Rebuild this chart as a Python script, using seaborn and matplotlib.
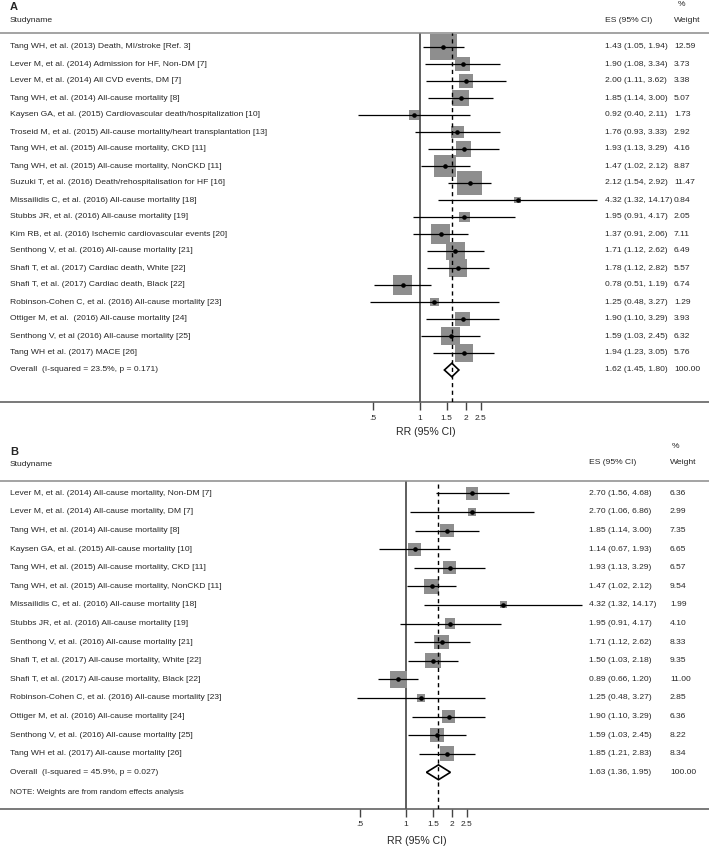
import numpy as np
import pandas as pd
import matplotlib
matplotlib.use('Agg')
import matplotlib.pyplot as plt
import matplotlib.transforms as mtransforms
from matplotlib.patches import Polygon
from matplotlib.ticker import FixedLocator, NullLocator
import seaborn as sns

sns.set_theme(style='white')
plt.rcParams['font.family'] = ['Liberation Sans', 'DejaVu Sans']

# Panel A: all outcomes
studies_a = [
    'Tang WH, et al. (2013) Death, MI/stroke [Ref. 3]',
    'Lever M, et al. (2014) Admission for HF, Non-DM [7]',
    'Lever M, et al. (2014) All CVD events, DM [7]',
    'Tang WH, et al. (2014) All-cause mortality [8]',
    'Kaysen GA, et al. (2015) Cardiovascular death/hospitalization [10]',
    'Troseid M, et al. (2015) All-cause mortality/heart transplantation [13]',
    'Tang WH, et al. (2015) All-cause mortality, CKD [11]',
    'Tang WH, et al. (2015) All-cause mortality, NonCKD [11]',
    'Suzuki T, et al. (2016) Death/rehospitalisation for HF [16]',
    'Missailidis C, et al. (2016) All-cause mortality [18]',
    'Stubbs JR, et al. (2016) All-cause mortality [19]',
    'Kim RB, et al. (2016) Ischemic cardiovascular events [20]',
    'Senthong V, et al. (2016) All-cause mortality [21]',
    'Shafi T, et al. (2017) Cardiac death, White [22]',
    'Shafi T, et al. (2017) Cardiac death, Black [22]',
    'Robinson-Cohen C, et al. (2016) All-cause mortality [23]',
    'Ottiger M, et al.  (2016) All-cause mortality [24]',
    'Senthong V, et al (2016) All-cause mortality [25]',
    'Tang WH et al. (2017) MACE [26]',
]
es_a = [1.43, 1.90, 2.00, 1.85, 0.92, 1.76, 1.93, 1.47, 2.12, 4.32,
        1.95, 1.37, 1.71, 1.78, 0.78, 1.25, 1.90, 1.59, 1.94]
lo_a = [1.05, 1.08, 1.11, 1.14, 0.40, 0.93, 1.13, 1.02, 1.54, 1.32,
        0.91, 0.91, 1.12, 1.12, 0.51, 0.48, 1.10, 1.03, 1.23]
hi_a = [1.94, 3.34, 3.62, 3.00, 2.11, 3.33, 3.29, 2.12, 2.92, 14.17,
        4.17, 2.06, 2.62, 2.82, 1.19, 3.27, 3.29, 2.45, 3.05]
wt_a = [12.59, 3.73, 3.38, 5.07, 1.73, 2.92, 4.16, 8.87, 11.47, 0.84,
        2.05, 7.11, 6.49, 5.57, 6.74, 1.29, 3.93, 6.32, 5.76]
overall_label_a = 'Overall  (I-squared = 23.5%, p = 0.171)'
overall_a = (1.62, 1.45, 1.80)

# Panel B: all-cause mortality
studies_b = [
    'Lever M, et al. (2014) All-cause mortality, Non-DM [7]',
    'Lever M, et al. (2014) All-cause mortality, DM [7]',
    'Tang WH, et al. (2014) All-cause mortality [8]',
    'Kaysen GA, et al. (2015) All-cause mortality [10]',
    'Tang WH, et al. (2015) All-cause mortality, CKD [11]',
    'Tang WH, et al. (2015) All-cause mortality, NonCKD [11]',
    'Missailidis C, et al. (2016) All-cause mortality [18]',
    'Stubbs JR, et al. (2016) All-cause mortality [19]',
    'Senthong V, et al. (2016) All-cause mortality [21]',
    'Shafi T, et al. (2017) All-cause mortality, White [22]',
    'Shafi T, et al. (2017) All-cause mortality, Black [22]',
    'Robinson-Cohen C, et al. (2016) All-cause mortality [23]',
    'Ottiger M, et al. (2016) All-cause mortality [24]',
    'Senthong V, et al. (2016) All-cause mortality [25]',
    'Tang WH et al. (2017) All-cause mortality [26]',
]
es_b = [2.70, 2.70, 1.85, 1.14, 1.93, 1.47, 4.32, 1.95, 1.71, 1.50,
        0.89, 1.25, 1.90, 1.59, 1.85]
lo_b = [1.56, 1.06, 1.14, 0.67, 1.13, 1.02, 1.32, 0.91, 1.12, 1.03,
        0.66, 0.48, 1.10, 1.03, 1.21]
hi_b = [4.68, 6.86, 3.00, 1.93, 3.29, 2.12, 14.17, 4.17, 2.62, 2.18,
        1.20, 3.27, 3.29, 2.45, 2.83]
wt_b = [6.36, 2.99, 7.35, 6.65, 6.57, 9.54, 1.99, 4.10, 8.33, 9.35,
        11.00, 2.85, 6.36, 8.22, 8.34]
overall_label_b = 'Overall  (I-squared = 45.9%, p = 0.027)'
overall_b = (1.63, 1.36, 1.95)

tick_vals = [0.5, 1, 1.5, 2, 2.5]
tick_labels = ['.5', '1', '1.5', '2', '2.5']

W, H = 709, 849
fig = plt.figure(figsize=(W / 100, H / 100), dpi=100)
FS = 6.1


def ftext(x, y, s, **kw):
    # x, y in pixels from top-left
    fig.text(x / W, 1 - y / H, s, **kw)


def forest(studies, es, lo, hi, wt, ov_label, ov, lay):
    ax = fig.add_axes([0, 1 - lay['bottom'] / H, 1, (lay['bottom'] - lay['top']) / H])
    df = pd.DataFrame({'study': studies, 'es': es, 'lo': lo, 'hi': hi, 'wt': wt})
    df['row'] = np.arange(len(df))
    n_ov = len(df)

    k, x1 = lay['k'], lay['x1']
    ax.set_xscale('log')
    ax.set_xlim(np.exp(-x1 / k), np.exp((W - x1) / k))
    step, r0 = lay['step'], lay['row0']
    ax.set_ylim((lay['bottom'] - r0) / step, (lay['top'] - r0) / step)

    sns.scatterplot(data=df, x='es', y='row', marker='s', s=df['wt'] * lay['sk'],
                    color='#8e8e8e', linewidth=0, ax=ax, zorder=2, legend=False)
    ax.hlines(df['row'], df['lo'], df['hi'], color='black', lw=0.9, zorder=3)
    sns.scatterplot(data=df, x='es', y='row', marker='o', s=11, color='black',
                    linewidth=0, ax=ax, zorder=4, legend=False)

    ax.axvline(1, color='#333333', lw=1.1, zorder=1)
    ax.axvline(ov[0], color='black', lw=1.0, dashes=(3, 2.5), zorder=3)

    h = 0.4
    dia = Polygon([(ov[1], n_ov), (ov[0], n_ov - h), (ov[2], n_ov), (ov[0], n_ov + h)],
                  closed=True, fill=False, edgecolor='black', lw=1.2, zorder=5)
    ax.add_patch(dia)

    tr = mtransforms.blended_transform_factory(ax.transAxes, ax.transData)
    rows = list(df.itertuples()) 
    for r in rows:
        ax.text(10 / W, r.row, r.study, transform=tr, va='center', ha='left', fontsize=FS)
        ax.text(lay['es_x'] / W, r.row, f'{r.es:.2f} ({r.lo:.2f}, {r.hi:.2f})',
                transform=tr, va='center', ha='left', fontsize=FS)
        ax.text(lay['wt_x'] / W, r.row, f'{r.wt:.2f}', transform=tr, va='center',
                ha='left', fontsize=FS)
    ax.text(10 / W, n_ov, ov_label, transform=tr, va='center', ha='left', fontsize=FS)
    ax.text(lay['es_x'] / W, n_ov, f'{ov[0]:.2f} ({ov[1]:.2f}, {ov[2]:.2f})',
            transform=tr, va='center', ha='left', fontsize=FS)
    ax.text(lay['wt_x'] / W, n_ov, '100.00', transform=tr, va='center', ha='left', fontsize=FS)

    for side in ['left', 'right']:
        ax.spines[side].set_visible(False)
    ax.spines['top'].set_color('#8a8a8a')
    ax.spines['top'].set_linewidth(1.1)
    ax.spines['bottom'].set_color('#555555')
    ax.spines['bottom'].set_linewidth(1.1)

    ax.xaxis.set_major_locator(FixedLocator(tick_vals))
    ax.xaxis.set_minor_locator(NullLocator())
    ax.set_xticklabels(tick_labels)
    ax.tick_params(axis='x', which='major', bottom=True, direction='out', length=5.8,
                   width=1.0, color='#444444', labelsize=6, pad=3.5)
    ax.set_yticks([])
    ax.set_xlabel('')
    ax.set_ylabel('')
    ax.grid(False)
    return ax


lay_a = dict(top=33.3, bottom=402.3, row0=47, step=17.0, x1=419.5, k=67.0,
             es_x=605, wt_x=674, sk=28.2)
lay_b = dict(top=480.5, bottom=808.5, row0=493.3, step=18.6, x1=406, k=66.5,
             es_x=589, wt_x=670, sk=13.0)

forest(studies_a, es_a, lo_a, hi_a, wt_a, overall_label_a, overall_a, lay_a)
forest(studies_b, es_b, lo_b, hi_b, wt_b, overall_label_b, overall_b, lay_b)

# headers panel A
ftext(10, 7, 'A', fontsize=8, fontweight='bold', va='center')
ftext(10, 21, 'Studyname', fontsize=FS, va='center')
ftext(605, 21, 'ES (95% CI)', fontsize=FS, va='center')
ftext(674, 21, 'Weight', fontsize=FS, va='center')
ftext(678, 5, '%', fontsize=FS, va='center')
ftext(426, 432, 'RR (95% CI)', fontsize=7.6, ha='center', va='center')

# headers panel B
ftext(10, 452, 'B', fontsize=8, fontweight='bold', va='center')
ftext(10, 465, 'Studyname', fontsize=FS, va='center')
ftext(589, 463, 'ES (95% CI)', fontsize=FS, va='center')
ftext(670, 463, 'Weight', fontsize=FS, va='center')
ftext(672, 447, '%', fontsize=FS, va='center')
ftext(10, 792, 'NOTE: Weights are from random effects analysis', fontsize=5.8, va='center')
ftext(417, 841, 'RR (95% CI)', fontsize=7.6, ha='center', va='center')

fig.savefig('out.png', dpi=100, facecolor='white')
